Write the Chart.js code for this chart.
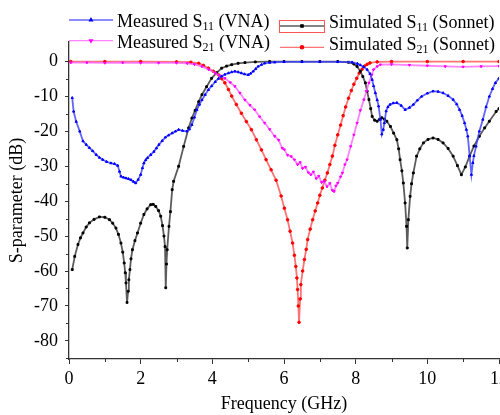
<!DOCTYPE html>
<html>
<head>
<meta charset="utf-8">
<script src="https://cdn.jsdelivr.net/npm/chart.js@4.4.1/dist/chart.umd.min.js"></script>
<style>
  html, body { margin: 0; padding: 0; background: #fff; overflow: hidden; }
  #wrap { width: 512px; height: 415px; }
</style>
</head>
<body>
<div id="wrap"><canvas id="sChart"></canvas></div>
<script>
/* ── DATA ───────────────────────────────────── */
const xTicks = [0, 2, 4, 6, 8, 10, 12];
const yTicks = [-80, -70, -60, -50, -40, -30, -20, -10, 0];

// Measured S11 (VNA)
const measS11F = [0.09,0.13,0.2,0.3,0.39,0.48,0.57,0.66,0.76,0.85,0.94,1.05,1.17,1.27,1.36,1.41,1.45,1.52,1.59,1.66,1.73,1.8,1.86,1.93,2.0,2.05,2.09,2.14,2.19,2.28,2.37,2.44,2.51,2.6,2.69,2.78,2.88,2.97,3.06,3.17,3.29,3.36,3.43,3.5,3.57,3.64,3.71,3.8,3.89,3.98,4.08,4.17,4.26,4.35,4.45,4.54,4.63,4.72,4.81,4.9,5.0,5.07,5.14,5.21,5.28,5.37,5.46,5.6,5.74,6.0,6.5,7.0,7.5,7.9,8.05,8.13,8.22,8.32,8.4,8.46,8.5,8.55,8.6,8.64,8.69,8.73,8.77,8.8,8.85,8.9,8.96,9.05,9.15,9.27,9.38,9.5,9.61,9.72,9.84,10.0,10.16,10.3,10.44,10.58,10.72,10.82,10.9,10.97,11.04,11.09,11.13,11.18,11.23,11.27,11.3,11.36,11.45,11.55,11.64,11.73,11.82,11.9,12.0];
const measS11 = [-10.4,-14.3,-17.2,-20,-22.8,-23.8,-24.7,-25.6,-26.7,-27.5,-28.1,-28.7,-29.1,-29.3,-29.8,-31.5,-32.9,-33.2,-33.4,-33.6,-33.9,-34.4,-34.8,-33.8,-32.4,-30.5,-29.1,-28.2,-27.6,-26.7,-25.8,-24.8,-23.8,-22.7,-21.7,-21.1,-20.5,-20,-19.5,-19.8,-20,-19.4,-18.1,-16,-13.8,-12.3,-11,-9.5,-8.1,-7,-5.8,-4.9,-4.2,-3.7,-3.3,-3.0,-2.8,-3.0,-3.3,-3.6,-3.8,-3.4,-2.8,-2.1,-1.4,-0.9,-0.5,-0.3,-0.2,-0.1,-0.1,-0.1,-0.1,-0.2,-0.6,-1,-1.5,-2.3,-3.5,-5.2,-7,-9,-11,-12.8,-16.6,-20.8,-19.5,-17.6,-14.2,-13,-12.3,-11.9,-11.8,-12.6,-13.8,-13.2,-12.3,-11.1,-10,-9.1,-8.5,-8.6,-9,-9.8,-10.9,-12.2,-13.8,-15.5,-17.6,-19.5,-21.4,-27,-32.4,-29,-27,-24.3,-20,-16.6,-13,-10,-7.8,-6.1,-4.8];

// Measured S21 (VNA)
const measS21F = [0.05,0.5,1,1.5,2,2.5,3,3.3,3.5,3.71,3.9,4.08,4.2,4.35,4.5,4.63,4.77,4.91,5.05,5.18,5.32,5.46,5.6,5.74,5.85,5.95,6.01,6.1,6.2,6.29,6.38,6.45,6.52,6.6,6.68,6.75,6.82,6.9,6.97,7.05,7.12,7.2,7.28,7.35,7.4,7.45,7.5,7.58,7.63,7.7,7.76,7.86,7.95,8.04,8.13,8.23,8.3,8.37,8.45,8.5,8.6,8.69,9,9.5,10,10.5,11,11.5,12];
const measS21 = [-0.3,-0.3,-0.4,-0.3,-0.4,-0.4,-0.4,-0.5,-0.8,-1.4,-2.3,-3.3,-4,-4.8,-6,-7.1,-9,-11,-12.5,-13.8,-15.8,-17.6,-19.4,-21.4,-22.5,-24.8,-25.2,-26.8,-27.2,-28.1,-29.5,-28.9,-30.6,-30.2,-31.8,-32.4,-31.6,-33.5,-32.8,-34.6,-34.3,-35.8,-34.9,-36.9,-37.2,-35.6,-34.8,-33.0,-31.9,-29.5,-28.1,-24.3,-21,-17.6,-14,-10.9,-8.5,-6.1,-3.8,-2.3,-1.4,-0.9,-0.8,-1.0,-1.2,-1.4,-1.5,-1.4,-1.3];

// Simulated S11 (Sonnet)
const simS11F = [0.09,0.16,0.25,0.32,0.39,0.48,0.57,0.7,0.85,1.0,1.13,1.22,1.31,1.38,1.45,1.5,1.54,1.57,1.59,1.62,1.65,1.67,1.7,1.73,1.77,1.84,1.91,2.0,2.09,2.18,2.28,2.35,2.42,2.5,2.56,2.61,2.65,2.68,2.7,2.72,2.74,2.79,2.83,2.88,2.92,3.06,3.2,3.34,3.43,3.52,3.62,3.71,3.84,3.98,4.12,4.26,4.4,4.54,4.72,4.91,5.2,5.6,6,6.5,7,7.5,7.8,7.95,8.04,8.13,8.2,8.27,8.32,8.37,8.42,8.46,8.53,8.6,8.67,8.73,8.8,8.87,8.97,9.06,9.15,9.2,9.24,9.29,9.33,9.38,9.42,9.44,9.47,9.52,9.56,9.61,9.7,9.79,9.89,10.02,10.16,10.3,10.44,10.58,10.72,10.84,10.95,11.06,11.18,11.3,11.45,11.6,11.73,11.92,12.0];
const simS11 = [-59.6,-55.8,-52.4,-50.5,-49.1,-47.4,-46.2,-45.2,-44.5,-44.6,-45.3,-46.3,-47.7,-49.5,-52,-54.6,-57.7,-60.5,-63.4,-69,-65.8,-62.5,-59.6,-56.5,-53.9,-51.3,-49.1,-46.3,-43.8,-42.2,-41,-40.9,-41.5,-42.7,-44.3,-47,-50,-53,-64.8,-58,-53.9,-47.2,-43,-36.7,-34.3,-30,-24.3,-19,-16.2,-14,-11.5,-9.5,-7.2,-4.8,-3.2,-1.9,-1.3,-0.9,-0.5,-0.3,-0.1,0,0,0,0,0,-0.2,-0.7,-1.4,-2.8,-4.3,-6.1,-8.5,-10.9,-13.5,-15.7,-16.8,-17.1,-16.5,-16.1,-16.5,-17.1,-18.6,-20.5,-22.4,-25,-28.1,-31.3,-34.8,-40.5,-47.2,-53.4,-45.3,-38.6,-35,-31.9,-27.1,-25,-23.3,-22.3,-21.9,-22.3,-23.3,-24.9,-27.1,-29.8,-32.4,-30.2,-27.1,-24.2,-21.4,-19,-17.1,-14.3,-13.5];

// Simulated S21 (Sonnet)
const simS21F = [0.05,1,2,3,3.4,3.62,3.75,3.89,4.03,4.17,4.26,4.35,4.45,4.54,4.67,4.81,4.95,5.09,5.23,5.37,5.5,5.64,5.78,5.92,6.01,6.1,6.17,6.24,6.29,6.33,6.36,6.38,6.4,6.42,6.45,6.47,6.52,6.57,6.62,6.66,6.73,6.8,6.87,6.94,7.0,7.07,7.14,7.21,7.28,7.35,7.42,7.5,7.58,7.65,7.72,7.8,7.88,7.95,8.03,8.1,8.18,8.25,8.32,8.4,8.6,9,10,11,12];
const simS21 = [0,0,0,-0.1,-0.2,-0.5,-1.1,-1.9,-2.8,-3.8,-4.9,-6.1,-8,-9.9,-12.3,-14.8,-17.2,-19.5,-22.4,-25.3,-28.1,-31,-34,-38.5,-42,-45.3,-48.6,-52,-55.5,-58.7,-62,-65.3,-70,-74.7,-68,-63.9,-60,-56.7,-53.8,-51,-48,-45.3,-42.8,-40.5,-38.3,-36.2,-34,-31.9,-29.5,-27.1,-24,-21,-18.2,-15.5,-13,-10.5,-8.3,-6.5,-4.8,-3.3,-2.2,-1.3,-0.8,-0.4,-0.1,0,0,0,0];

const pairs = (xs, ys) => xs.map((x, i) => ({ x, y: ys[i] }));

/* ── STYLE ──────────────────────────────────── */
const FONT = "'Liberation Serif', 'Times New Roman', serif";
const series = [
  { label: 'Measured S', sub: '11', tail: ' (VNA)',    data: pairs(measS11F, measS11), line: 'rgba(60,60,255,0.8)',  mark: '#0000ff', style: 'triangle', rot: 0 },
  { label: 'Measured S', sub: '21', tail: ' (VNA)',    data: pairs(measS21F, measS21), line: 'rgba(255,90,255,0.75)', mark: '#ff00ff', style: 'triangle', rot: 180 },
  { label: 'Simulated S', sub: '11', tail: ' (Sonnet)', data: pairs(simS11F, simS11),  line: 'rgba(50,50,50,0.8)',   mark: '#000000', style: 'rect',     rot: 0 },
  { label: 'Simulated S', sub: '21', tail: ' (Sonnet)', data: pairs(simS21F, simS21),  line: 'rgba(255,70,70,0.75)', mark: '#ff0000', style: 'circle',   rot: 0 },
];

/* ── MINOR TICKS + LEGEND ───────────────────── */
const extras = {
  id: 'extras',
  afterDraw(chart) {
    const { ctx, scales: { x, y } } = chart;
    ctx.save();
    ctx.strokeStyle = '#333';
    ctx.lineWidth = 1;
    ctx.beginPath();
    for (let v = 1; v < 12; v += 2) {
      const px = Math.round(x.getPixelForValue(v)) + 0.5;
      ctx.moveTo(px, y.bottom); ctx.lineTo(px, y.bottom + 3);
    }
    for (let v = -85; v <= 0; v += 10) {
      const py = Math.round(y.getPixelForValue(v)) + 0.5;
      ctx.moveTo(x.left, py); ctx.lineTo(x.left - 3, py);
    }
    ctx.stroke();

    // legend
    const spots = [
      { lx: 69, ly: 20, tx: 117, ty: 26.5 },
      { lx: 69, ly: 40.7, tx: 117, ty: 47.7 },
      { lx: 280, ly: 26, tx: 329, ty: 28.3 },
      { lx: 280, ly: 47.3, tx: 329, ty: 50 },
    ];
    series.forEach((s, i) => {
      const p = spots[i];
      ctx.strokeStyle = s.line;
      ctx.lineWidth = 1.3;
      ctx.beginPath(); ctx.moveTo(p.lx, p.ly); ctx.lineTo(p.lx + 44, p.ly); ctx.stroke();
      ctx.fillStyle = s.mark; ctx.strokeStyle = s.mark;
      Chart.helpers.drawPoint(ctx, { pointStyle: s.style, radius: 1.6, rotation: s.rot, borderWidth: 1 }, p.lx + 22, p.ly);
      ctx.fillStyle = '#000';
      ctx.textBaseline = 'alphabetic';
      ctx.font = '18px ' + FONT;
      ctx.fillText(s.label, p.tx, p.ty);
      let w = ctx.measureText(s.label).width;
      ctx.font = '12px ' + FONT;
      ctx.fillText(s.sub, p.tx + w, p.ty + 3);
      w += ctx.measureText(s.sub).width;
      ctx.font = '18px ' + FONT;
      ctx.fillText(s.tail, p.tx + w, p.ty);
    });
    // selection box around the simulated S11 key
    ctx.strokeStyle = '#ff5555';
    ctx.lineWidth = 1;
    ctx.strokeRect(279.5, 20.5, 45, 12);
    ctx.restore();
  }
};

/* ── CHART ──────────────────────────────────── */
new Chart(document.getElementById('sChart'), {
  type: 'line',
  data: {
    datasets: series.map(s => ({
      label: s.label + s.sub + s.tail,
      data: s.data,
      borderColor: s.line,
      borderWidth: 1.8,
      backgroundColor: s.mark,
      pointBackgroundColor: s.mark,
      pointBorderColor: s.mark,
      pointStyle: s.style,
      rotation: s.rot,
      pointRadius: 1.3,
      pointBorderWidth: 1,
      tension: 0,
      fill: false,
    }))
  },
  options: {
    responsive: true, maintainAspectRatio: false,
    animation: false,
    layout: { padding: { top: 42, left: 0, right: 0, bottom: 0 } },
    plugins: { legend: { display: false }, tooltip: { enabled: false } },
    scales: {
      x: {
        type: 'linear', min: 0, max: 12,
        afterBuildTicks: s => { s.ticks = xTicks.map(v => ({ value: v })); },
        afterFit: s => { s.height = 56; },
        grid: { drawOnChartArea: false, drawTicks: true, tickLength: 5, color: '#333' },
        border: { display: true, color: '#333', width: 1.3 },
        ticks: { color: '#000', font: { family: FONT, size: 18 }, padding: 4, maxRotation: 0 },
        title: { display: true, text: 'Frequency (GHz)', color: '#000', font: { family: FONT, size: 18 }, padding: { top: 0, bottom: 0 } }
      },
      y: {
        type: 'linear', min: -85.2, max: 5.6,
        afterBuildTicks: s => { s.ticks = yTicks.map(v => ({ value: v })); },
        afterFit: s => { s.width = 69; },
        grid: { drawOnChartArea: false, drawTicks: true, tickLength: 4, color: '#333' },
        border: { display: true, color: '#333', width: 1.3 },
        ticks: { color: '#000', font: { family: FONT, size: 18 }, padding: 7 },
        title: { display: true, text: 'S-parameter (dB)', color: '#000', font: { family: FONT, size: 18 }, padding: { top: 6, bottom: 0 } }
      }
    }
  },
  plugins: [extras]
});
</script>
</body>
</html>
